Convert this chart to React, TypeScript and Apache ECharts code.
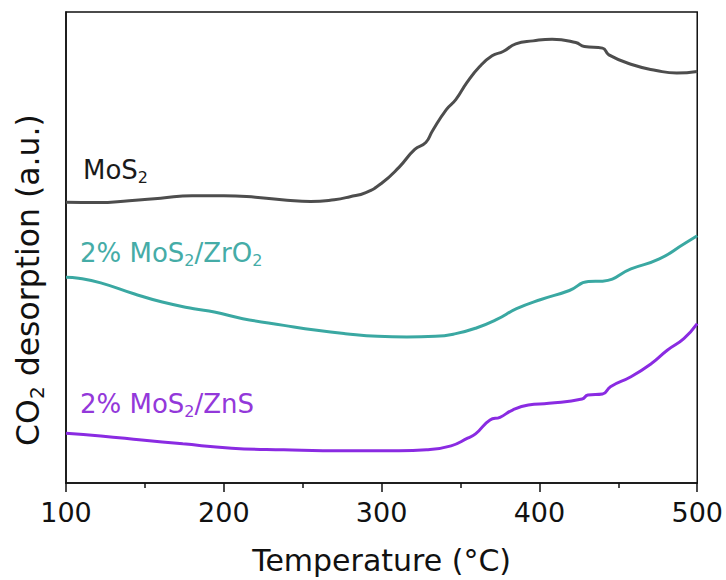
import React, { useEffect, useRef } from 'react';
import * as echarts from 'echarts';

// Temperature (°C) vs CO2 desorption (a.u.)
const xTicks = [100, 200, 300, 400, 500];

const mos2: [number, number][] = [
  [100, 282], [120, 281.7], [140, 283.5], [160, 286], [180, 288.5], [200, 288.5],
  [220, 287], [240, 284], [255, 282.7], [270, 284.5], [280, 287.5], [290, 291.7],
  [300, 301], [311, 317], [321, 335], [328, 342], [332, 353], [341, 375],
  [347, 385], [354, 402], [362, 418], [370, 429], [377, 433.3], [385, 441],
  [396, 444], [408, 445.7], [423, 442.3], [428.5, 438.3], [440, 436.7], [444, 430],
  [459, 420], [474, 414.3], [487, 411.7], [500, 413.3],
];

const zro2: [number, number][] = [
  [100, 206.7], [108, 205.7], [122, 201], [143, 190], [161, 181.7], [181, 175],
  [194, 171.7], [212, 165], [238, 158.3], [259, 153.3], [277, 150], [297.5, 147.3],
  [316, 146.7], [334, 147.3], [347, 150], [360, 155.7], [373, 164.3], [385.5, 175],
  [401, 184.3], [419, 193.3], [431, 202.3], [440, 202.7], [458, 215], [476, 225],
  [491.5, 240], [500, 248.3],
];

const zns: [number, number][] = [
  [100, 50], [122, 47.3], [148, 43.3], [174, 39.3], [205, 35], [238, 33.3],
  [277, 32.3], [311, 32.3], [328.5, 33.3], [344, 37.3], [354.5, 45], [359.5, 49.3],
  [368.7, 63.3], [375, 66], [383, 73.3], [393, 78.3], [406, 80], [427, 84.3],
  [430.7, 88.3], [440, 89.3], [445, 96.7], [458, 106.7], [471, 120], [481, 133.3],
  [491.5, 145], [500, 160],
];

const seriesNames = ['MoS2', '2% MoS2/ZrO2', '2% MoS2/ZnS'];
const lineColors = ['#4d4d4d', '#3aa8a2', '#8a2be2'];
const labelColors = ['#1a1a1a', '#45aca7', '#9338da'];

const FONT = 'DejaVu Sans';

export default function App() {
  const ref = useRef<HTMLDivElement>(null);

  useEffect(() => {
    if (!ref.current) return;
    const chart = echarts.init(ref.current, null, { renderer: 'svg' });

    const richFor = (color: string, size: number, sub: number, lh: number) => ({
      a: { fontSize: size, fontFamily: FONT, fill: color, lineHeight: lh, verticalAlign: 'middle' },
      s: { fontSize: sub, fontFamily: FONT, fill: color, lineHeight: sub, verticalAlign: 'bottom' },
    });

    const label = (x: number, y: number, text: string, color: string) => ({
      type: 'text',
      x,
      y,
      z: 10,
      style: {
        text,
        rich: richFor(color, 26, 16, 31),
        align: 'left',
        verticalAlign: 'middle',
      },
    });

    const mk = (data: [number, number][], i: number) => ({
      name: seriesNames[i],
      type: 'line',
      data,
      showSymbol: false,
      smooth: 0.5,
      lineStyle: { color: lineColors[i], width: 3 },
      itemStyle: { color: lineColors[i] },
    });

    chart.setOption({
      animation: false,
      backgroundColor: '#ffffff',
      grid: {
        left: 66,
        right: 28,
        top: 12,
        bottom: 95,
        show: true,
        borderColor: '#111',
        borderWidth: 1.5,
        backgroundColor: 'transparent',
      },
      xAxis: {
        type: 'value',
        min: xTicks[0],
        max: xTicks[xTicks.length - 1],
        interval: 100,
        name: 'Temperature (°C)',
        nameLocation: 'middle',
        nameGap: 62,
        nameTextStyle: { fontSize: 30, fontFamily: FONT, color: '#111' },
        axisLine: { show: true, lineStyle: { color: '#111', width: 1.5 } },
        axisTick: { show: true, inside: false, length: 9, lineStyle: { color: '#111', width: 1.5 } },
        minorTick: { show: true, splitNumber: 2, length: 5, lineStyle: { color: '#111', width: 1.5 } },
        axisLabel: { fontSize: 27, fontFamily: FONT, color: '#111', margin: 16 },
        splitLine: { show: false },
      },
      yAxis: {
        type: 'value',
        min: 0,
        max: 473,
        axisLine: { show: true, lineStyle: { color: '#111', width: 1.5 } },
        axisTick: { show: false },
        axisLabel: { show: false },
        splitLine: { show: false },
      },
      series: [mk(mos2, 0), mk(zro2, 1), mk(zns, 2)],
      graphic: [
        {
          type: 'text',
          x: 28,
          y: 280,
          rotation: Math.PI / 2,
          style: {
            text: '{a|CO}{s|2}{a| desorption (a.u.)}',
            rich: richFor('#111', 31.5, 20, 38),
            align: 'center',
            verticalAlign: 'middle',
          },
        },
        label(83, 170, '{a|MoS}{s|2}', labelColors[0]),
        label(80, 252.5, '{a|2% MoS}{s|2}{a|/ZrO}{s|2}', labelColors[1]),
        label(80, 404, '{a|2% MoS}{s|2}{a|/ZnS}', labelColors[2]),
      ],
    });

    return () => chart.dispose();
  }, []);

  return (
    <div
      ref={ref}
      style={{ position: 'absolute', left: 0, top: 0, width: 726, height: 580, background: '#fff' }}
    />
  );
}
